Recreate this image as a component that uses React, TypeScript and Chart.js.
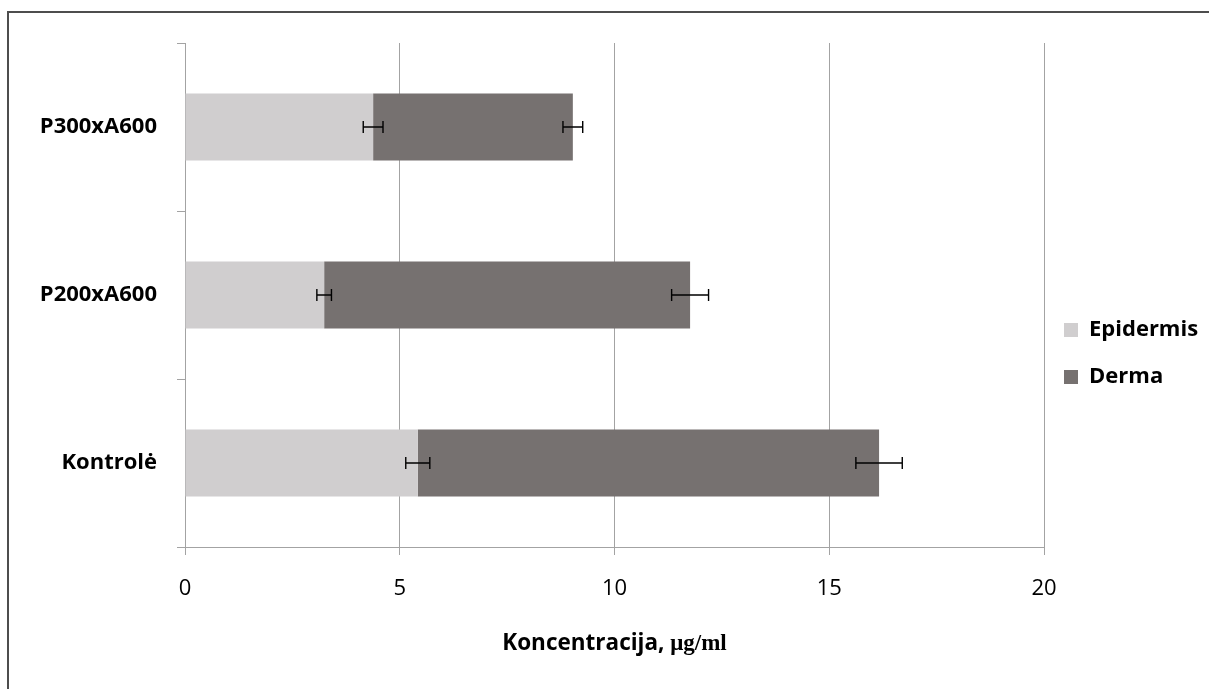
import React, { useEffect, useRef } from 'react';
import { Chart, registerables } from 'chart.js';

Chart.register(...registerables);

const categories = ['P300xA600', 'P200xA600', 'Kontrolė'];
const seriesNames = ['Epidermis', 'Derma'];
const epidermis = [4.38, 3.24, 5.42];
const derma = [4.65, 8.52, 10.74];
const epidermisErr = [0.23, 0.17, 0.28];
const dermaErr = [0.23, 0.43, 0.54];
const xMin = 0;
const xMax = 20;
const xStep = 5;
const xTitleSans = 'Koncentracija, ';
const xTitleSerif = 'μg/ml';

const GRID = '#a3a3a3';
const SANS = "'Open Sans', sans-serif";

const framePlugin = {
  id: 'frame',
  beforeDraw(chart: any) {
    const ctx = chart.ctx;
    ctx.save();
    ctx.strokeStyle = '#4d4d4d';
    ctx.lineWidth = 2;
    ctx.beginPath();
    ctx.moveTo(8, chart.height + 2);
    ctx.lineTo(8, 12);
    ctx.lineTo(chart.width + 2, 12);
    ctx.stroke();
    ctx.restore();
  },
};

const legendPlacePlugin = {
  id: 'legendPlace',
  afterLayout(chart: any) {
    const lg = chart.legend;
    if (!lg) return;
    const h = lg.height;
    lg.left = lg.left - 5;
    lg.right = chart.width;
    lg.top = 294;
    lg.bottom = 294 + h;
  },
};

const errorBarPlugin = {
  id: 'errorBars',
  afterDatasetsDraw(chart: any) {
    const ctx = chart.ctx;
    const xs = chart.scales.x;
    const ys = chart.scales.y;
    ctx.save();
    ctx.strokeStyle = '#000000';
    ctx.lineWidth = 1.4;
    categories.forEach((_, i) => {
      const y = ys.getPixelForValue(i);
      const ends = [
        { v: epidermis[i], e: epidermisErr[i] },
        { v: epidermis[i] + derma[i], e: dermaErr[i] },
      ];
      ends.forEach(({ v, e }) => {
        const x1 = xs.getPixelForValue(v - e);
        const x2 = xs.getPixelForValue(v + e);
        ctx.beginPath();
        ctx.moveTo(x1, y);
        ctx.lineTo(x2, y);
        ctx.moveTo(x1, y - 6);
        ctx.lineTo(x1, y + 6);
        ctx.moveTo(x2, y - 6);
        ctx.lineTo(x2, y + 6);
        ctx.stroke();
      });
    });
    ctx.restore();
  },
};

const xTitlePlugin = {
  id: 'xTitle',
  afterDraw(chart: any) {
    const ctx = chart.ctx;
    const area = chart.chartArea;
    ctx.save();
    const sansFont = `bold 22.5px ${SANS}`;
    const serifFont = "bold 23px 'Liberation Serif', 'DejaVu Serif', serif";
    ctx.font = sansFont;
    const w1 = ctx.measureText(xTitleSans).width;
    ctx.font = serifFont;
    const w2 = ctx.measureText(xTitleSerif).width;
    const cx = (area.left + area.right) / 2;
    const x0 = cx - (w1 + w2) / 2;
    const baseline = 650;
    ctx.fillStyle = '#000000';
    ctx.textBaseline = 'alphabetic';
    ctx.textAlign = 'left';
    ctx.font = sansFont;
    ctx.fillText(xTitleSans, x0, baseline);
    ctx.font = serifFont;
    ctx.fillText(xTitleSerif, x0 + w1, baseline);
    ctx.restore();
  },
};

export default function App() {
  const canvasRef = useRef<HTMLCanvasElement | null>(null);

  useEffect(() => {
    const canvas = canvasRef.current;
    if (!canvas) return;
    const chart = new Chart(canvas, {
      type: 'bar',
      data: {
        labels: categories,
        datasets: [
          {
            label: seriesNames[0],
            data: epidermis,
            backgroundColor: '#d0cecf',
            borderWidth: 0,
            barPercentage: 0.4,
            categoryPercentage: 1.0,
          },
          {
            label: seriesNames[1],
            data: derma,
            backgroundColor: '#767170',
            borderWidth: 0,
            barPercentage: 0.4,
            categoryPercentage: 1.0,
          },
        ],
      },
      options: {
        indexAxis: 'y',
        responsive: false,
        animation: false,
        layout: { padding: { top: 43, right: 45, left: 0, bottom: 0 } },
        plugins: {
          legend: {
            position: 'right',
            align: 'start',
            maxWidth: 120,
            labels: {
              boxWidth: 14,
              boxHeight: 14,
              padding: 25,
              color: '#000000',
              font: { family: SANS, size: 22, weight: 'bold' },
            },
          },
          tooltip: { enabled: false },
        },
        scales: {
          x: {
            stacked: true,
            min: xMin,
            max: xMax,
            ticks: {
              stepSize: xStep,
              color: '#000000',
              padding: 21,
              font: { family: SANS, size: 22 },
            },
            grid: { color: GRID, lineWidth: 1, tickLength: 8, drawTicks: true },
            border: { color: GRID, width: 1 },
            afterFit: (scale: any) => {
              scale.height = 142;
            },
          },
          y: {
            stacked: true,
            ticks: {
              color: '#000000',
              padding: 20,
              font: { family: SANS, size: 22, weight: 'bold' },
            },
            grid: { drawOnChartArea: false, color: GRID, tickLength: 8, drawTicks: true },
            border: { color: GRID, width: 1 },
            afterFit: (scale: any) => {
              scale.width = 185;
            },
          },
        },
      } as any,
      plugins: [framePlugin, legendPlacePlugin, errorBarPlugin, xTitlePlugin],
    });
    return () => chart.destroy();
  }, []);

  return (
    <div style={{ position: 'fixed', left: 0, top: 0, width: 1209, height: 689, background: '#ffffff' }}>
      <canvas ref={canvasRef} width={1209} height={689} style={{ display: 'block' }} />
    </div>
  );
}
